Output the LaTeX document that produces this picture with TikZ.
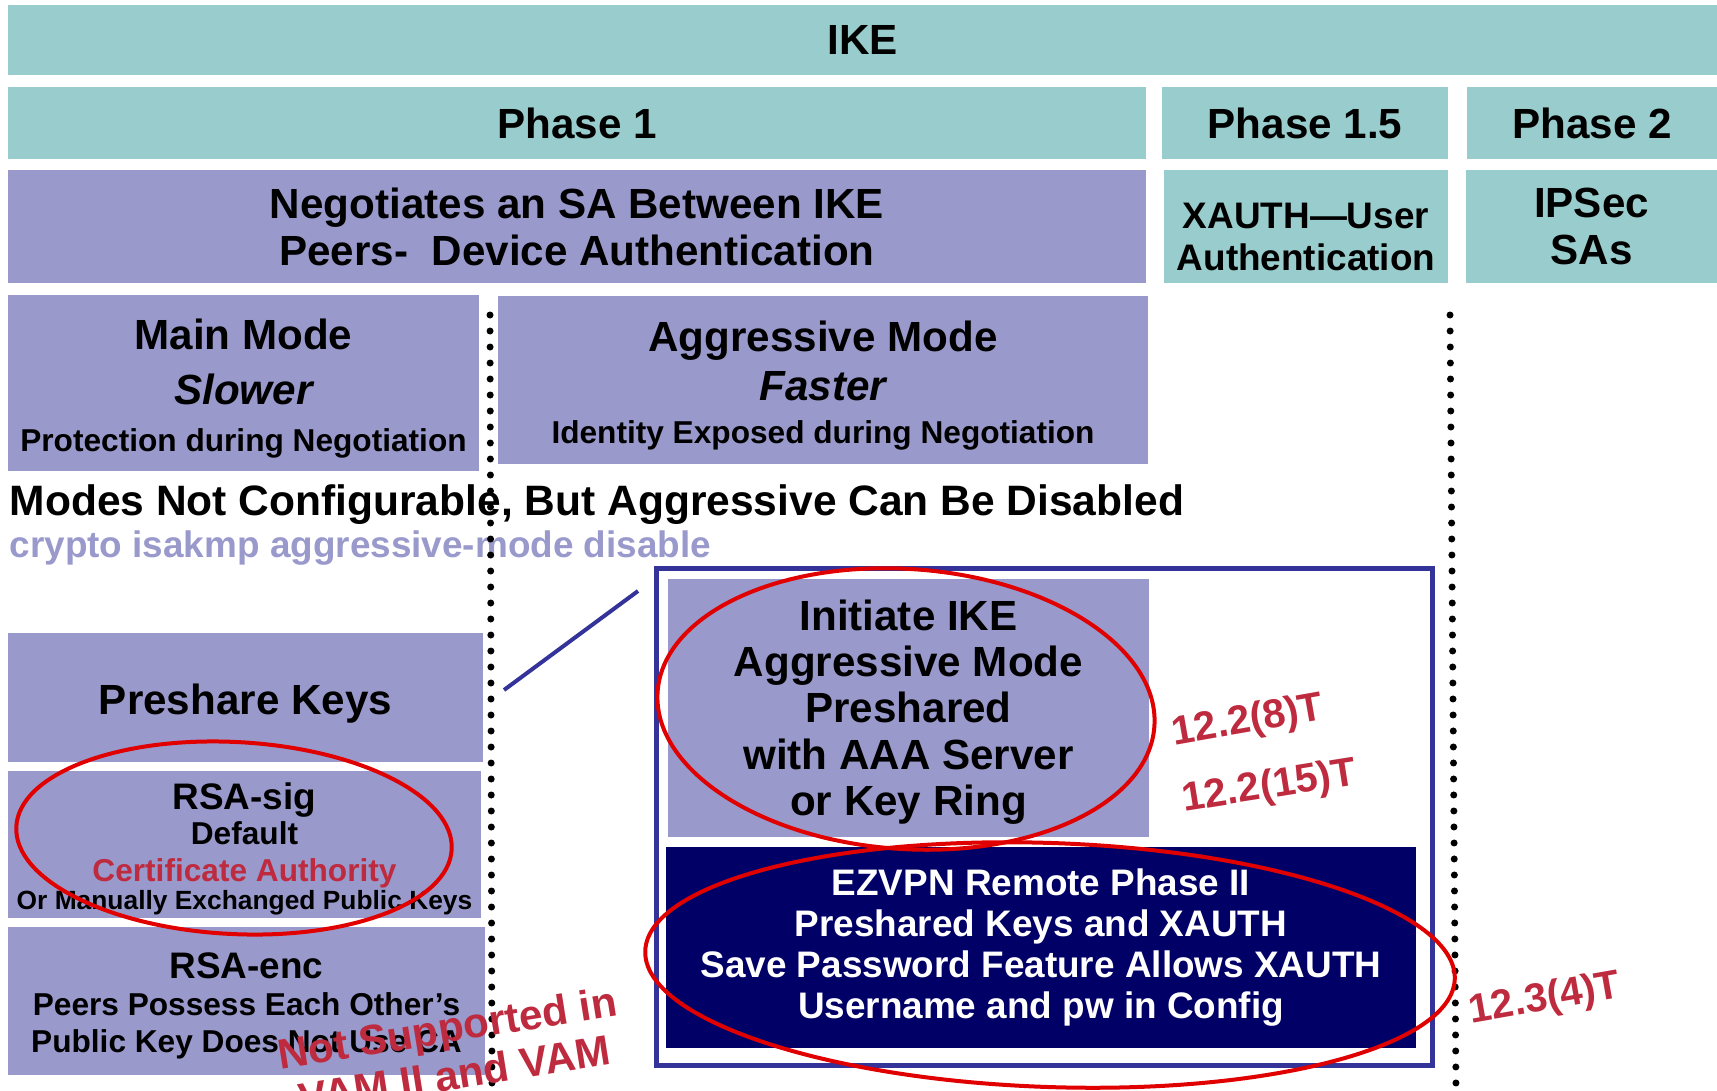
\documentclass[tikz,border=0pt]{standalone}
\usepackage{fontspec}
\setmainfont{Liberation Sans}
\usepackage{tikz}
\usetikzlibrary{positioning}

\definecolor{ikeTeal}{RGB}{153,204,204}
\definecolor{ikeLav}{RGB}{153,153,204}
\definecolor{ikeNavy}{RGB}{0,0,102}
\definecolor{ikeFrame}{RGB}{51,51,153}
\definecolor{noteRed}{RGB}{190,42,62}
\definecolor{inkRed}{RGB}{225,0,0}

\newcommand\ikefont[2]{\fontsize{#1}{#2}\selectfont\bfseries}
\newcommand\topgap[1]{\rule{0pt}{#1}}

\begin{document}
\begin{tikzpicture}[
x=0.1mm, y=-0.1mm,
cell/.style={inner sep=0pt, outer sep=0pt, align=center, anchor=north west, font=\ikefont{12}{13}},
tealcell/.style={cell, fill=ikeTeal},
lavcell/.style={cell, fill=ikeLav},
navycell/.style={cell, fill=ikeNavy, text=white},
dotsep/.style={line width=0.7mm, line cap=round, dash pattern=on 0pt off 1.6mm},
scribble/.style={draw=inkRed, line width=0.4mm},
note/.style={inner sep=0pt, text=noteRed, font=\ikefont{11.5}{13.4}}
]
\useasboundingbox (0,0) rectangle (1717,1090);
\clip (0,0) rectangle (1717,1090);

% phase header rows
\node[tealcell, minimum width=170.9mm, minimum height=7mm] (ike) at (8,5) {IKE};
\node[tealcell, minimum width=113.8mm, minimum height=7.2mm] (ph1) at (8,87) {Phase 1};
\node[tealcell, minimum width=28.6mm, minimum height=7.2mm, right=1.6mm of ph1] (ph15) {Phase 1.5};
\node[tealcell, minimum width=25mm, minimum height=7.2mm, right=1.9mm of ph15] (ph2) {Phase 2};

\node[lavcell, minimum width=113.8mm, minimum height=11.3mm, font=\ikefont{12}{13.4}] (nego) at (8,170) {Negotiates an SA Between IKE\\Peers-~ Device Authentication};
\node[tealcell, minimum width=28.4mm, minimum height=11.3mm, font=\ikefont{10.5}{12.2}] (xauth) at (1164,170) {\topgap{13.2pt}XAUTH—User\\Authentication};
\node[tealcell, minimum width=25.1mm, minimum height=11.3mm, font=\ikefont{12}{13.4}] (ipsec) at (1466,170) {IPSec\\SAs};

% modes
\node[lavcell, minimum width=47.1mm, minimum height=17.6mm] (mainm) at (8,295) {\topgap{11.9pt}Main Mode\\[2.6pt]{\itshape Slower}\\[0.4pt]{\ikefont{9}{10}Protection during Negotiation}};
\node[lavcell, minimum width=65mm, minimum height=16.8mm] (aggrm) at (498,296) {\topgap{11.9pt}Aggressive Mode\\[0.9pt]{\itshape Faster}\\[-0.5pt]{\ikefont{9}{10}Identity Exposed during Negotiation}};

\node[anchor=base west, inner sep=0pt, font=\ikefont{12.1}{13}] (modes) at (9,515) {Modes Not Configurable, But Aggressive Can Be Disabled};
\node[anchor=base west, inner sep=0pt, font=\ikefont{10.5}{12}, text=ikeLav] (cmd) at (9,557) {crypto isakmp aggressive-mode disable};

% authentication methods
\node[lavcell, minimum width=47.5mm, minimum height=12.9mm, text height=9.5pt, text depth=0pt] (preshare) at (8,633) {Preshare Keys};
\node[lavcell, minimum width=47.3mm, minimum height=14.7mm, font=\ikefont{9}{10}] (rsasig) at (8,771) {{\ikefont{10.5}{12}\topgap{10.2pt}RSA-sig}\\Default\\[0.5pt]{\color{noteRed}Certificate Authority}\\[-2pt]{\ikefont{7.5}{8.5}Or Manually Exchanged Public Keys}};
\node[lavcell, minimum width=47.7mm, minimum height=14.8mm, font=\ikefont{9}{10}] (rsaenc) at (8,927) {{\ikefont{10.5}{12}\topgap{10.2pt}RSA-enc}\\[0.5pt]Peers Possess Each Other’s\\[0.5pt]Public Key Does Not Use CA};

% aggressive mode detail
\node[draw=ikeFrame, line width=0.45mm, inner sep=0pt, anchor=north west, minimum width=77.6mm, minimum height=49.7mm] (frame) at (654,566) {};
\node[lavcell, minimum width=48.1mm, minimum height=25.8mm, font=\ikefont{12}{13.2}] (initike) at (668,579) {\topgap{11pt}Initiate IKE\\Aggressive Mode\\Preshared\\with AAA Server\\or Key Ring};
\node[navycell, minimum width=75mm, minimum height=20.1mm, font=\ikefont{10.5}{11.7}] (ezvpn) at (666,847) {EZVPN Remote Phase II\\Preshared Keys and XAUTH\\Save Password Feature Allows XAUTH\\Username and pw in Config};

% separators
\coordinate (sepAtop) at (490,315);
\coordinate (sepAbot) at (492,1090);
\coordinate (sepBtop) at (1450,315);
\coordinate (sepBbot) at (1456,1090);
\draw[dotsep] (sepAtop) -- (sepAbot);
\draw[dotsep] (sepBtop) -- (sepBbot);

\coordinate (linkA) at (504,690);
\coordinate (linkB) at (638,591);
\draw[ikeFrame, line width=0.4mm] (linkA) -- (linkB);

% hand-drawn marks
\coordinate (ovA) at (234,838);
\coordinate (ovB) at (906,709);
\coordinate (ovC) at (1050,965);
\draw[scribble, rotate around={-3:(ovA)}] (ovA) ellipse [x radius=21.8mm, y radius=9.6mm];
\draw[scribble, rotate around={-4:(ovB)}] (ovB) ellipse [x radius=24.9mm, y radius=14mm];
\draw[scribble, rotate around={-2:(ovC)}] (ovC) ellipse [x radius=40.5mm, y radius=12.2mm];

\node[note, rotate=10, anchor=base] (relA) at (1250,732) {12.2(8)T};
\node[note, rotate=9, anchor=base] (relB) at (1271,798) {12.2(15)T};
\node[note, rotate=10, anchor=base] (relC) at (1547,1010) {12.3(4)T};
\node[note, rotate=9, anchor=base, align=center, font=\ikefont{12}{13.4}] (nosup) at (457,1089) {Not Supported in\\VAM II and VAM};
\end{tikzpicture}
\end{document}
